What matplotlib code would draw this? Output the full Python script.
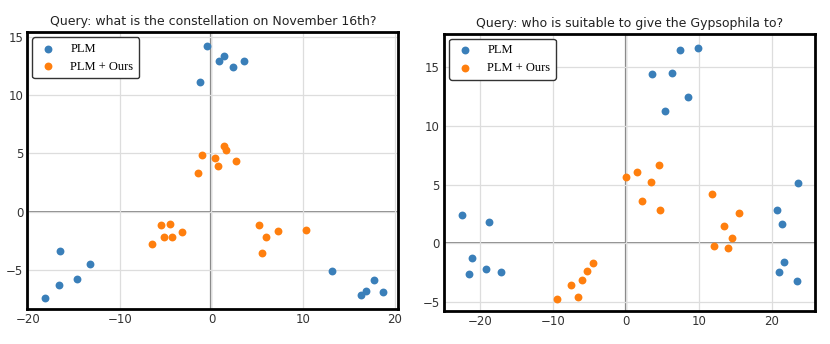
import matplotlib
matplotlib.use('Agg')
import matplotlib.pyplot as plt
import numpy as np

# query 1: constellation
t1 = 'Query: what is the constellation on November 16th?'
plm1_x = [-0.44, -1.27, 0.8, 1.4, 2.35, 3.6,
          -18.2, -16.5, -16.6, -14.7, -13.3,
          13.2, 16.3, 16.9, 17.8, 18.7]
plm1_y = [14.2, 11.1, 12.9, 13.4, 12.4, 12.9,
          -7.4, -3.4, -6.3, -5.8, -4.5,
          -5.1, -7.15, -6.8, -5.9, -6.9]
ours1_x = [1.34, 1.56, -0.98, 0.36, 0.69, 2.68, -1.5,
           -5.55, -4.47, -5.2, -4.3, -3.24, -6.5,
           5.2, 6.0, 7.3, 10.3, 5.55]
ours1_y = [5.65, 5.3, 4.85, 4.6, 3.9, 4.3, 3.3,
           -1.2, -1.1, -2.2, -2.15, -1.8, -2.8,
           -1.15, -2.2, -1.7, -1.6, -3.6]

# query 2: gypsophila
t2 = 'Query: who is suitable to give the Gypsophila to?'
plm2_x = [7.37, 9.8, 3.5, 6.3, 8.45, 5.3,
          -22.6, -18.8, -21.2, -21.6, -19.2, -17.2,
          23.6, 20.7, 21.4, 21.7, 20.9, 23.4]
plm2_y = [16.4, 16.6, 14.35, 14.5, 12.4, 11.2,
          2.4, 1.86, -1.27, -2.6, -2.15, -2.4,
          5.15, 2.85, 1.64, -1.6, -2.4, -3.2]
ours2_x = [4.5, 1.5, -0.05, 3.35, 2.15, 4.6,
           11.8, 15.4, 13.35, 14.45, 12.07, 13.9,
           -4.57, -5.35, -6.08, -7.64, -6.58, -9.47]
ours2_y = [6.7, 6.05, 5.68, 5.2, 3.6, 2.85,
           4.2, 2.6, 1.5, 0.45, -0.23, -0.37,
           -1.64, -2.35, -3.14, -3.5, -4.55, -4.72]

BLUE = '#3a7fb9'
ORANGE = '#ff7f0e'


def panel(ax, title, px, py, ox, oy, xlim, ylim, yticks):
    ax.grid(True, color='#dddddd', lw=0.9, zorder=0)
    ax.axhline(0, color='#808080', lw=1.3, zorder=1)
    ax.axvline(0, color='#808080', lw=1.6, zorder=1)
    ax.scatter(px, py, s=32, c=BLUE, lw=0, label='PLM', zorder=3)
    ax.scatter(ox, oy, s=32, c=ORANGE, lw=0, label='PLM + Ours', zorder=3)
    ax.set_xlim(xlim)
    ax.set_ylim(ylim)
    ax.set_xticks([-20, -10, 0, 10, 20])
    ax.set_yticks(yticks)
    ax.tick_params(length=0, labelsize=8.5, labelcolor='#333333', pad=3)
    for s in ax.spines.values():
        s.set_linewidth(2)
        s.set_color('black')
    ax.set_title(title, fontsize=9, color='#222222', pad=5)
    leg = ax.legend(loc='upper left', prop={'family': 'Liberation Serif', 'size': 9},
                    frameon=True, fancybox=True, framealpha=1, borderpad=0.45,
                    handletextpad=1.0, handlelength=1.6, scatterpoints=1,
                    borderaxespad=0.4, labelspacing=0.45)
    leg.get_frame().set_edgecolor('#333333')
    leg.get_frame().set_linewidth(1)


fig = plt.figure(figsize=(8.3, 3.44), dpi=100)
ax1 = fig.add_axes([0.0329, 0.101, 0.447, 0.805])
ax2 = fig.add_axes([0.535, 0.095, 0.447, 0.807])

panel(ax1, t1, plm1_x, plm1_y, ours1_x, ours1_y, (-20.1, 20.4), (-8.4, 15.4), [-5, 0, 5, 10, 15])
panel(ax2, t2, plm2_x, plm2_y, ours2_x, ours2_y, (-25.0, 25.9), (-5.76, 17.8), [-5, 0, 5, 10, 15])

fig.savefig('out.png', dpi=100)
